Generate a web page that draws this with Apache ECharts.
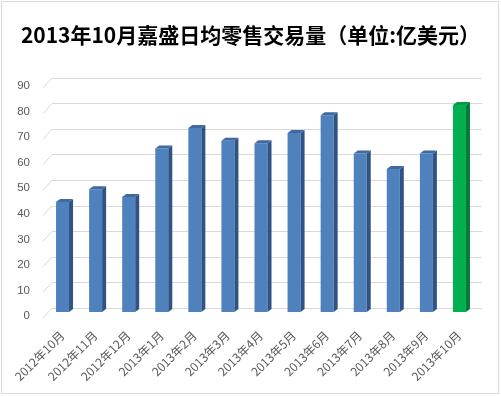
<!DOCTYPE html>
<html><head><meta charset="utf-8">
<script src="https://cdn.jsdelivr.net/npm/echarts@6/dist/echarts.min.js"></script>
<style>html,body{margin:0;padding:0;background:#fff}#c{width:501px;height:396px}</style>
</head><body><div id="c"></div>
<script>
const titleText = '2013年10月嘉盛日均零售交易量（单位:亿美元）';
const categories = ['2012年10月','2012年11月','2012年12月','2013年1月','2013年2月','2013年3月','2013年4月','2013年5月','2013年6月','2013年7月','2013年8月','2013年9月','2013年10月'];
const values = [43, 48, 45, 64, 72, 67, 66, 70, 77, 62, 56, 62, 81];
const highlightIndex = 12;
const yTicks = {min: 0, max: 90, interval: 10};
const tickValues = [0, 10, 20, 30, 40, 50, 60, 70, 80, 90];

const chart = echarts.init(document.getElementById('c'), null, {renderer: 'canvas'});
const blue = {front: '#4F81BD', side: '#2F5385', top: '#3E69A3'};
const green = {front: '#00B050', side: '#007A38', top: '#009A45'};

chart.setOption({
  animation: false,
  backgroundColor: '#fff',
  title: {
    text: titleText, left: 'center', top: 20,
    textStyle: {fontSize: 21, fontWeight: 'bold', color: '#000', fontFamily: '"Noto Sans CJK SC", "Liberation Sans", sans-serif'}
  },
  graphic: [{type: 'rect', shape: {x: 1.5, y: 1.5, width: 497, height: 392}, style: {fill: 'none', stroke: '#D9D9D9', lineWidth: 1}, silent: true, z: -1}],
  grid: {left: 52, right: 19, top: 78, bottom: 88},
  xAxis: {
    type: 'category', data: categories,
    axisLine: {show: false}, axisTick: {show: false},
    axisLabel: {
      rotate: 45, margin: 19, interval: 0,
      formatter: '{a|{value}}',
      rich: {a: {color: '#595959', fontSize: 12, padding: [0, 9, 0, 0], fontFamily: '"Noto Sans CJK SC", sans-serif'}}
    }
  },
  yAxis: {
    type: 'value', min: yTicks.min, max: yTicks.max, interval: yTicks.interval,
    axisLine: {show: false}, axisTick: {show: false},
    splitLine: {lineStyle: {color: '#D9D9D9', width: 1}},
    axisLabel: {
      margin: 22,
      formatter: '{a|{value}}',
      rich: {a: {color: '#595959', fontSize: 11.5, padding: [16, 0, 0, 0], fontFamily: '"Liberation Sans", Arial, sans-serif'}}
    }
  },
  series: [{
    type: 'custom',
    data: tickValues.map(v => [0, v]),
    encode: {x: 0, y: 1},
    silent: true,
    renderItem: function (params, api) {
      const p = api.coord([0, api.value(1)]);
      const x = params.coordSys.x;
      return {type: 'line', shape: {x1: x - 9, y1: p[1] + 10, x2: x, y2: p[1]}, style: {stroke: '#D9D9D9', lineWidth: 1}};
    }
  }, {
    type: 'custom',
    data: values.map((v, i) => [i, v]),
    encode: {x: 0, y: 1},
    renderItem: function (params, api) {
      const i = api.value(0), v = api.value(1);
      const top = api.coord([i, v]);
      const base = api.coord([i, 0]);
      const c = i === highlightIndex ? green : blue;
      const w = 13, dx = 4, dy = 3;
      const cx = top[0] - 6;
      const fy = top[1] + 4, by = base[1] + 4;
      const x0 = cx - w / 2, x1 = cx + w / 2;
      return {type: 'group', children: [
        {type: 'rect', shape: {x: x0, y: fy, width: w, height: by - fy}, style: {fill: c.front}},
        {type: 'polygon', shape: {points: [[x1, fy], [x1 + dx, fy - dy], [x1 + dx, by - dy], [x1, by]]}, style: {fill: c.side}},
        {type: 'polygon', shape: {points: [[x0, fy], [x0 + dx, fy - dy], [x1 + dx, fy - dy], [x1, fy]]}, style: {fill: c.top}}
      ]};
    }
  }]
});
</script></body></html>
